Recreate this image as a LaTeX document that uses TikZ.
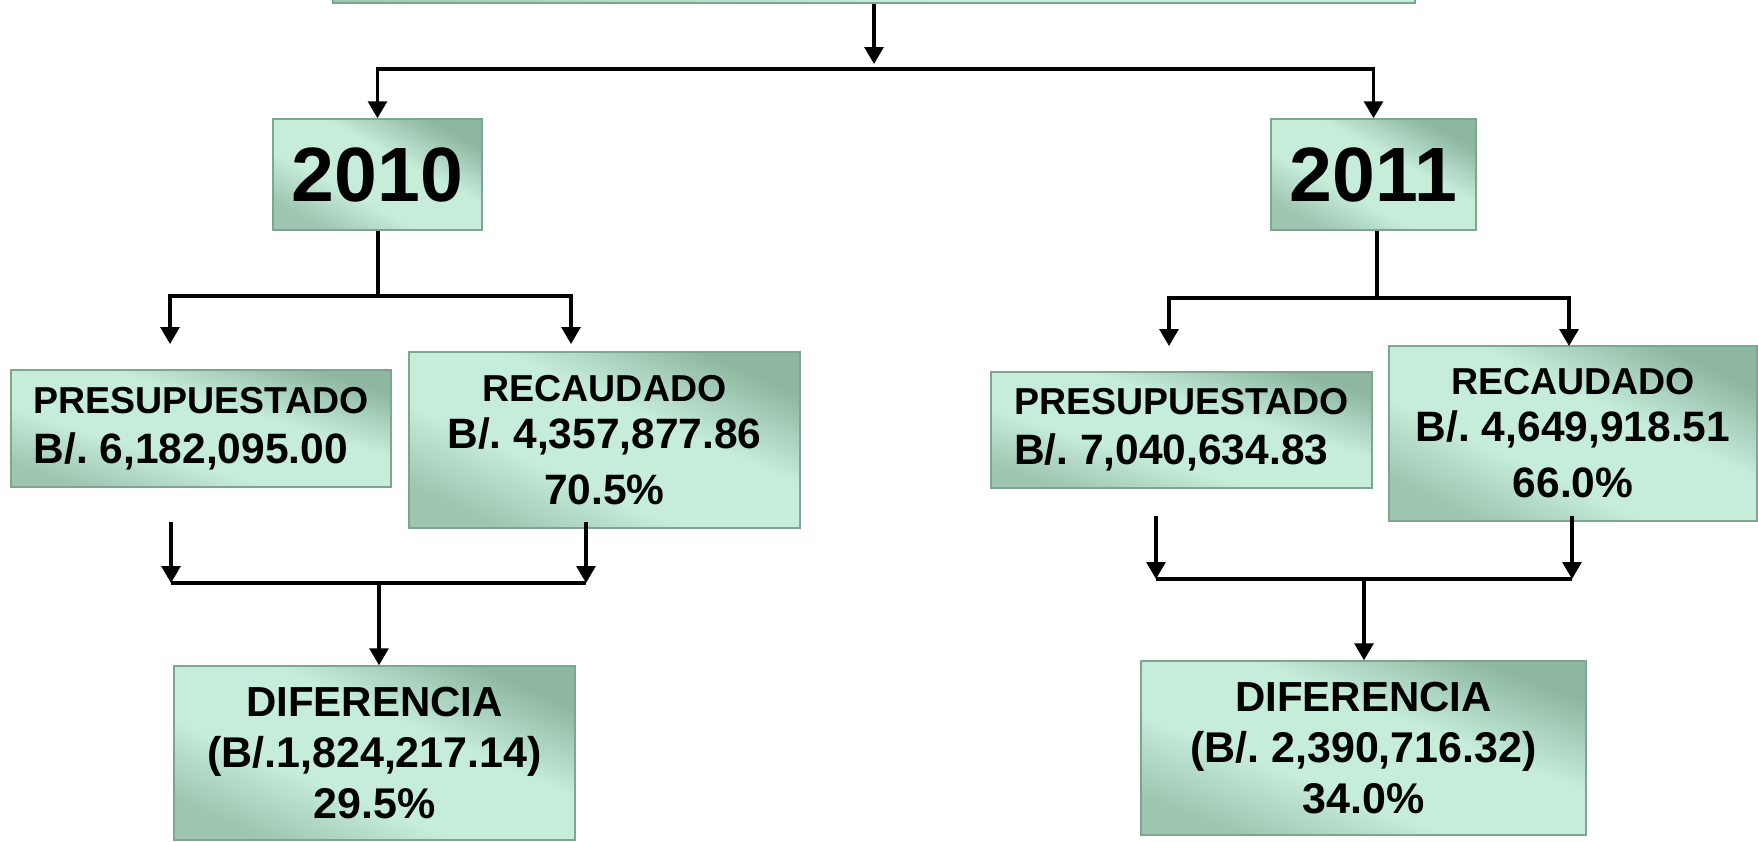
\documentclass[tikz,border=0pt]{standalone}
\usepackage{fontspec}
\setmainfont{Liberation Sans}
\usetikzlibrary{arrows.meta}
\definecolor{mintlt}{RGB}{198,236,218}
\definecolor{mintmd}{RGB}{158,198,177}
\definecolor{mintdk}{RGB}{141,183,161}
\definecolor{bordc}{RGB}{124,166,144}
\pgfdeclarehorizontalshading{mint}{100bp}{color(0bp)=(mintmd); color(25bp)=(mintmd); color(40bp)=(mintlt); color(58bp)=(mintlt); color(75bp)=(mintdk); color(100bp)=(mintdk)}
\newcommand\ttlf{\fontsize{37.5}{43}\selectfont}
\newcommand\numf{\fontsize{42.5}{47}\selectfont}
\newcommand\diff{\fontsize{43}{51}\selectfont}
\newcommand\yrf{\fontsize{77}{80}\selectfont}
\begin{document}
\frenchspacing
\begin{tikzpicture}[x=1pt,y=-1pt,
  box/.style={draw=bordc, line width=1.5pt, shading=mint, shading angle=#1, inner sep=0pt, align=center},
  ln/.style={line width=3.2pt},
  arr/.style={line width=3.2pt, -{Triangle[width=19pt,length=17pt]}}]
\useasboundingbox (0,0) rectangle (1758,841);
% boxes
\node[box=87.7, minimum width=1082pt, minimum height=43pt] (top) at (874,-18.5) {};
\node[box=62.0, minimum width=209pt, minimum height=111pt, font=\yrf\bfseries] (y10) at (377.5,174.5) {2010};
\node[box=61.6, minimum width=205pt, minimum height=111pt, font=\yrf\bfseries] (y11) at (1373.5,174.5) {2011};
\node[box=72.9, align=left, minimum width=380pt, minimum height=117pt, font=\fontsize{42}{50}\selectfont\bfseries] (p10) at (201,428.5) {{\ttlf PRESUPUESTADO}\\{\numf B/. 6,182,095.00}};
\node[box=65.8, minimum width=391pt, minimum height=176pt, font=\numf\bfseries] (r10) at (604.5,440) {{\ttlf RECAUDADO}\\{\numf B/. 4,357,877.86}\\[9pt]{\numf 70.5\%}};
\node[box=66.5, minimum width=401pt, minimum height=174pt, font=\diff\bfseries] (d10) at (374.5,753) {{\fontsize{42}{51}\selectfont DIFERENCIA}\\(B/.1,824,217.14)\\29.5\%};
\node[box=73.1, align=left, minimum width=381pt, minimum height=116pt, font=\fontsize{42}{50}\selectfont\bfseries] (p11) at (1181.5,430) {{\ttlf PRESUPUESTADO}\\{\numf B/. 7,040,634.83}};
\node[box=64.6, minimum width=368pt, minimum height=175pt, font=\numf\bfseries] (r11) at (1573,433.5) {{\ttlf RECAUDADO}\\{\numf B/. 4,649,918.51}\\[9pt]{\numf 66.0\%}};
\node[box=68.6, minimum width=445pt, minimum height=174pt, font=\diff\bfseries] (d11) at (1363.5,748) {{\fontsize{42}{51}\selectfont DIFERENCIA}\\(B/. 2,390,716.32)\\34.0\%};
% junction coordinates
\coordinate (j0) at (874,69);
\coordinate (j10) at (378,296);
\coordinate (a10p) at (170,344);
\coordinate (a10r) at (571,344);
\coordinate (b10p) at (171,522);
\coordinate (b10r) at (586,522);
\coordinate (k10l) at (171,583);
\coordinate (k10r) at (586,583);
\coordinate (k10) at (379,583);
\coordinate (j11) at (1377,298);
\coordinate (a11p) at (1169,346);
\coordinate (a11r) at (1569,346);
\coordinate (b11p) at (1156,516);
\coordinate (b11r) at (1572,516);
\coordinate (k11l) at (1156,579);
\coordinate (k11r) at (1572,579);
\coordinate (k11) at (1364,579);
% connectors
\draw[arr, shorten >=5pt] (top.south) -- (j0);
\draw[arr] (j0) -| (y10);
\draw[arr] (j0) -| (y11);
\draw[ln] (y10.south -| j10) -- (j10);
\draw[arr] (j10) -| (a10p);
\draw[arr] (j10) -| (a10r);
\draw[arr] (b10p) -- (k10l);
\draw[arr] (b10r) -- (k10r);
\draw[ln] (k10l) -- (k10r);
\draw[arr] (k10) -- (k10 |- d10.north);
\draw[ln] (y11.south -| j11) -- (j11);
\draw[arr] (j11) -| (a11p);
\draw[arr] (j11) -| (a11r);
\draw[arr] (b11p) -- (k11l);
\draw[arr] (b11r) -- (k11r);
\draw[ln] (k11l) -- (k11r);
\draw[arr] (k11) -- (k11 |- d11.north);
\end{tikzpicture}
\end{document}
